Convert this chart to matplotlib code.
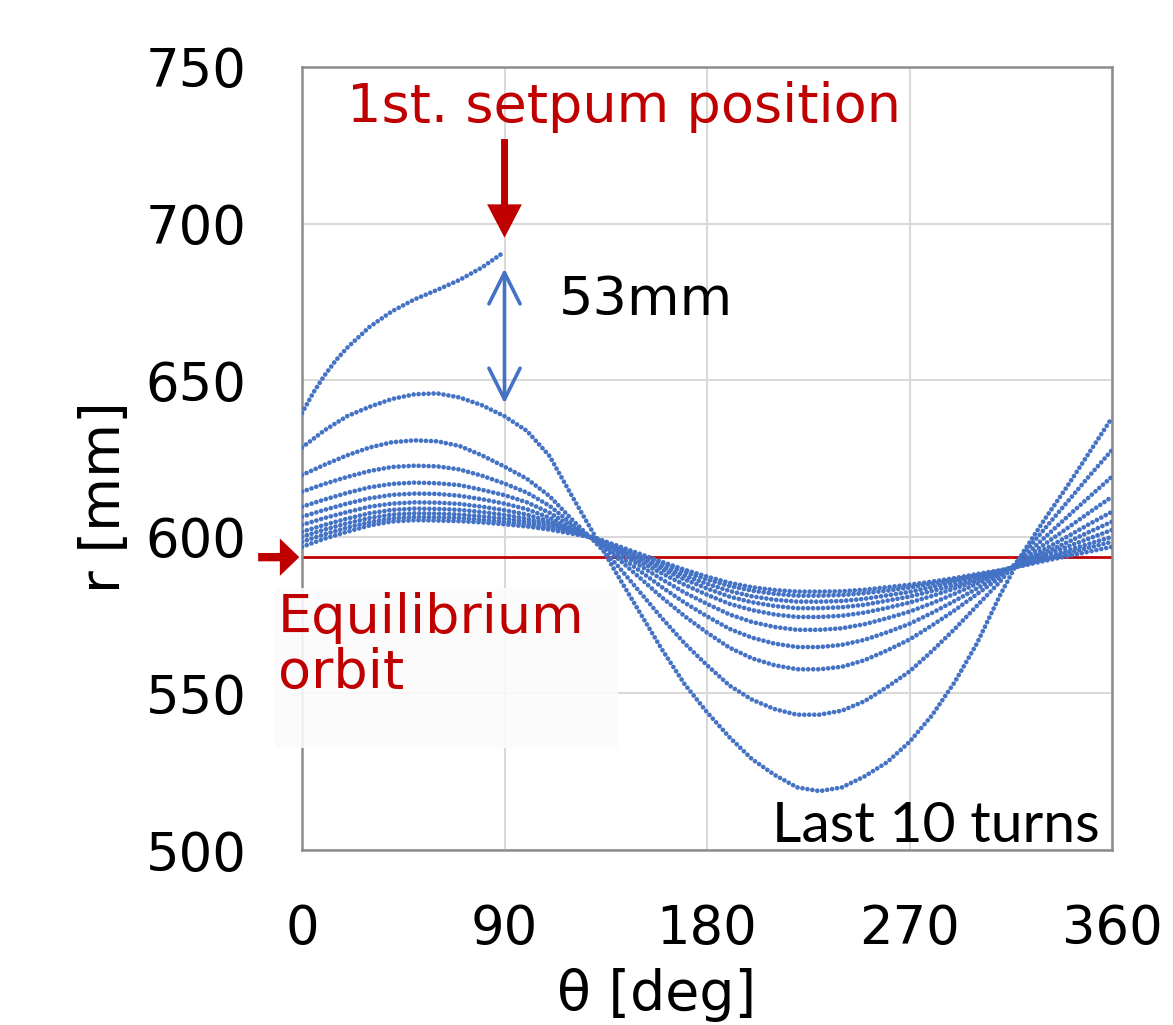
import matplotlib
matplotlib.use('Agg')
import matplotlib.pyplot as plt
from matplotlib.patches import Rectangle

plt.rcParams['font.family'] = ['DejaVu Sans']

# angle samples [deg]
theta = [0, 10, 20, 30, 40, 50, 60, 70, 80, 90, 100, 110, 120, 130, 140, 150, 160, 170, 180,
         190, 200, 210, 220, 230, 240, 250, 260, 270, 280, 290, 300, 310, 320, 330, 340, 350, 360]

# radius of each of the last 10 turns [mm], turn01 is the smallest orbit
r_turn01 = [596.8, 599.4, 601.6, 603.6, 604.9, 605.3, 605.2, 605.0, 604.6, 604.0, 603.3, 602.3, 601.0,
            599.7, 597.2, 594.6, 592.0, 589.5, 587.3, 585.3, 583.9, 583.0, 582.5, 582.5, 582.6, 583.1,
            583.9, 584.7, 585.7, 586.8, 588.1, 589.3, 590.7, 592.3, 593.8, 595.3, 596.8]
r_turn02 = [598.4, 600.8, 602.9, 604.7, 605.9, 606.3, 606.2, 606.0, 605.4, 604.8, 604.0, 602.8, 601.2,
            599.7, 597.0, 594.2, 591.4, 588.7, 586.4, 584.3, 582.8, 581.8, 581.2, 581.2, 581.4, 582.0,
            582.8, 583.8, 585.0, 586.3, 587.7, 589.1, 590.9, 592.8, 594.7, 596.6, 598.4]
r_turn03 = [600.0, 602.3, 604.3, 606.0, 607.1, 607.5, 607.4, 607.1, 606.5, 605.8, 604.8, 603.4, 601.4,
            599.6, 596.7, 593.6, 590.5, 587.6, 585.0, 582.7, 581.0, 579.9, 579.3, 579.3, 579.5, 580.2,
            581.3, 582.4, 583.9, 585.5, 587.2, 589.0, 591.1, 593.3, 595.6, 597.8, 600.0]
r_turn04 = [601.6, 603.8, 605.8, 607.5, 608.6, 609.0, 608.9, 608.6, 607.9, 607.0, 605.8, 604.1, 601.7,
            599.5, 596.4, 593.0, 589.6, 586.4, 583.5, 580.9, 579.1, 577.9, 577.2, 577.2, 577.5, 578.3,
            579.6, 580.9, 582.7, 584.6, 586.7, 588.8, 591.3, 594.1, 596.8, 599.5, 602.2]
r_turn05 = [603.8, 606.0, 607.9, 609.6, 610.6, 611.0, 610.9, 610.5, 609.6, 608.5, 607.1, 604.9, 602.0,
            599.4, 595.9, 592.1, 588.3, 584.7, 581.5, 578.6, 576.6, 575.2, 574.4, 574.4, 574.8, 575.8,
            577.3, 579.0, 581.1, 583.5, 586.0, 588.5, 591.6, 594.9, 598.2, 601.6, 604.8]
r_turn06 = [606.4, 608.6, 610.6, 612.3, 613.4, 613.8, 613.7, 613.1, 612.0, 610.6, 608.8, 606.1, 602.5,
            599.3, 595.3, 590.9, 586.4, 582.2, 578.6, 575.2, 572.8, 571.2, 570.3, 570.3, 570.8, 572.1,
            574.0, 576.1, 578.8, 581.8, 585.0, 588.1, 591.9, 596.0, 600.0, 604.1, 608.0]
r_turn07 = [609.6, 611.9, 614.0, 615.8, 616.9, 617.3, 617.1, 616.5, 615.0, 613.3, 611.0, 607.7, 603.2,
            599.1, 594.4, 589.2, 583.9, 579.0, 574.6, 570.6, 567.8, 565.9, 564.8, 564.8, 565.5, 567.1,
            569.5, 572.2, 575.7, 579.5, 583.5, 587.6, 592.4, 597.6, 602.7, 607.8, 612.8]
r_turn08 = [614.4, 616.9, 619.1, 621.0, 622.3, 622.7, 622.5, 621.5, 619.5, 617.0, 614.1, 609.9, 604.1,
            598.8, 593.3, 587.0, 580.6, 574.7, 569.4, 564.6, 561.2, 559.0, 557.7, 557.7, 558.5, 560.6,
            563.7, 567.2, 571.7, 576.5, 581.7, 586.9, 593.1, 599.7, 606.3, 612.8, 619.2]
r_turn09 = [619.7, 623.0, 626.0, 628.5, 630.2, 630.8, 630.5, 629.0, 626.0, 622.4, 618.5, 613.0, 605.5,
            598.5, 591.0, 582.5, 574.0, 566.0, 559.0, 552.5, 548.0, 545.0, 543.2, 543.2, 544.5, 547.5,
            552.0, 557.0, 563.5, 570.5, 578.0, 585.5, 594.0, 602.5, 611.0, 619.5, 627.7]
r_turn10 = [628.5, 634.0, 638.5, 641.5, 644.0, 645.5, 645.8, 644.5, 642.0, 638.5, 633.8, 625.8, 613.0,
            600.5, 588.0, 576.0, 564.0, 553.0, 544.0, 536.0, 529.0, 524.0, 520.0, 518.8, 520.0, 523.5,
            528.0, 534.5, 543.0, 553.5, 566.0, 581.0, 594.5, 605.5, 616.0, 627.0, 638.0]

# last turn stops at the septum (90 deg)
theta_last = [0, 5, 10, 15, 20, 30, 40, 50, 60, 70, 80, 90]
r_turn11 = [639.5, 646.0, 651.5, 656.3, 660.3, 667.0, 672.0, 675.8, 678.8, 682.0, 686.0, 691.0]

r_equilibrium = 593.5
septum_theta = 90

x_ticks = [0, 90, 180, 270, 360]
y_ticks = [500, 550, 600, 650, 700, 750]

blue = '#4472C4'
red = '#C00000'

W, H = 1173, 1025
fig = plt.figure(figsize=(W / 100, H / 100), dpi=100)
ax = fig.add_axes([302 / W, 175 / H, 810 / W, 783 / H])

dots = dict(color=blue, lw=3.4, linestyle=(0, (0.01, 1.05)),
            dash_capstyle='round', zorder=3)
turns = [r_turn01, r_turn02, r_turn03, r_turn04, r_turn05,
         r_turn06, r_turn07, r_turn08, r_turn09, r_turn10]
for r in turns:
    ax.plot(theta, r, **dots)
ax.plot(theta_last, r_turn11, **dots)

# equilibrium orbit
ax.plot([0, 360], [r_equilibrium, r_equilibrium], color=red, lw=2.0, zorder=2)

ax.set_xlim(0, 360)
ax.set_ylim(500, 750)
ax.set_xticks(x_ticks)
ax.set_yticks(y_ticks)
ax.tick_params(length=0, labelsize=38)
ax.tick_params(axis='y', pad=40)
ax.tick_params(axis='x', pad=38)
ax.grid(color='#D9D9D9', lw=1.5)
ax.set_axisbelow(True)
for s in ax.spines.values():
    s.set_color('#8C8C8C')
    s.set_linewidth(1.8)

# septum marker
ax.text(143, 732.5, '1st. setpum position', color=red, fontsize=39,
        ha='center', va='baseline')
ax.annotate('', xy=(septum_theta, 695.5), xytext=(septum_theta, 727),
            arrowprops=dict(width=5, headwidth=25, headlength=24, shrink=0,
                            color=red, lw=0))

# gap between last two turns
ax.annotate('', xy=(septum_theta, 642.6), xytext=(septum_theta, 685.6),
            arrowprops=dict(arrowstyle='<->', color=blue, lw=2.6,
                            mutation_scale=56, shrinkA=0, shrinkB=0))
ax.text(114, 675.6, '53mm', fontsize=39, ha='left', va='center')

ax.text(354.5, 502.5, 'Last 10 turns', fontsize=41, ha='right', va='baseline',
        family=['Lato', 'DejaVu Sans'])

# equilibrium label with its pale box
ax.add_patch(Rectangle((-12, 532.6), 152.4, 51.1, facecolor='#FBFBFB', alpha=0.9,
                       edgecolor='none', clip_on=False, zorder=5))
ax.text(-10.7, 582.5, 'Equilibrium\norbit', color=red, fontsize=39, ha='left',
        va='top', linespacing=1.08, zorder=6)
ax.annotate('', xy=(-1.2, r_equilibrium), xytext=(-19.5, r_equilibrium),
            arrowprops=dict(width=6, headwidth=27, headlength=14, shrink=0,
                            color=red, lw=0), annotation_clip=False)

fig.text(105 / W, 1 - 497 / H, 'r [mm]', fontsize=40, rotation=90,
         ha='center', va='center')
fig.text(657 / W, 1 - 995 / H, 'θ [deg]', fontsize=40, ha='center', va='center')

fig.savefig('out.png', dpi=100)
